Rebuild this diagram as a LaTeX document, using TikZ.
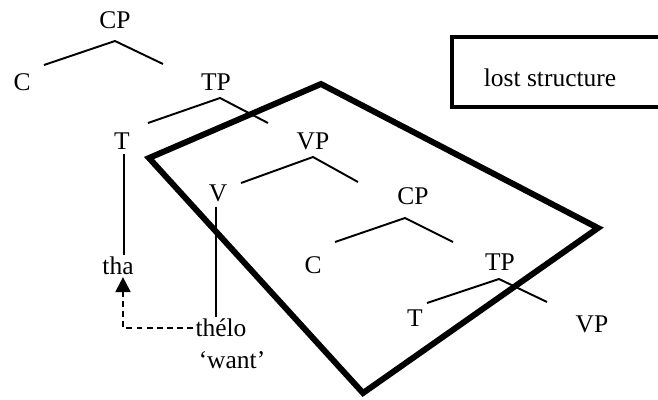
\documentclass[tikz,border=0pt]{standalone}
\usepackage{fontspec}
\setmainfont{Liberation Serif}
\usetikzlibrary{arrows.meta,positioning,calc}

\tikzset{
  lbl/.style={inner sep=1pt,font=\fontsize{14.5}{17}\selectfont},
  branch/.style={line width=1.1pt},
  lost/.style={line width=3.4pt,line join=miter}
}

\begin{document}
\begin{tikzpicture}[x=0.02cm,y=-0.02cm]
        \useasboundingbox (0,0) rectangle (658,399);

        % Lost structure region
        \draw[lost] (149,158) -- (321,84) -- (598,228) -- (363,393) -- cycle;

        % Legend
        \begin{scope}
        \clip (0,0) rectangle (658,399);
        \draw[line width=2.6pt] (452,37) rectangle (680,107);
        \end{scope}
        \node[lbl] (legend) at (550,78) {lost structure};

        % Upper tree
        \node[lbl] (cpa) at (115,20) {CP};
        \node[lbl] (ca) at (22,82) {C};
        \node[lbl] (tpa) at (216,82) {TP};
        \node[lbl] (ta) at (122,141) {T};
        \node[lbl] (tha) at (118,266) {tha};
        \draw[branch] (44,65) -- (115,41) -- (163,64);
        \draw[branch] (148,123) -- (220,98) -- (268,123);
        \draw[branch] (ta.south) ++(2,3) coordinate (ta1) -- (ta1 |- tha.north);

        % Inside the lost structure
        \node[lbl] (vpa) at (313,141) {VP};
        \node[lbl] (va) at (218,193) {V};
        \node[lbl] (thelo) at (221,328) {thélo};
        \node[lbl] (want) at (232,360) {`want'};
        \draw[branch] (241,183) -- (313,157) -- (358,182);
        \draw[branch] (va.south) ++(-2,3) coordinate (va1) -- (va1 |- thelo.north);

        \node[lbl] (cpb) at (413,196) {CP};
        \node[lbl] (cb) at (313,265) {C};
        \node[lbl] (tpb) at (500,262) {TP};
        \node[lbl] (tb) at (415,318) {T};
        \node[lbl] (vpb) at (592,324) {VP};
        \draw[branch] (335,242) -- (405,218) -- (453,242);
        \draw[branch] (427,303) -- (499,279) -- (547,302);

        % Movement
        \coordinate (turn) at (123,328);
        \draw[line width=1.1pt,dash pattern=on 3.4pt off 2.4pt,-{Triangle[length=3mm,width=3mm]}]
            (thelo.west) -- (turn) -- (turn |- tha.south);
    \end{tikzpicture}
\end{document}
